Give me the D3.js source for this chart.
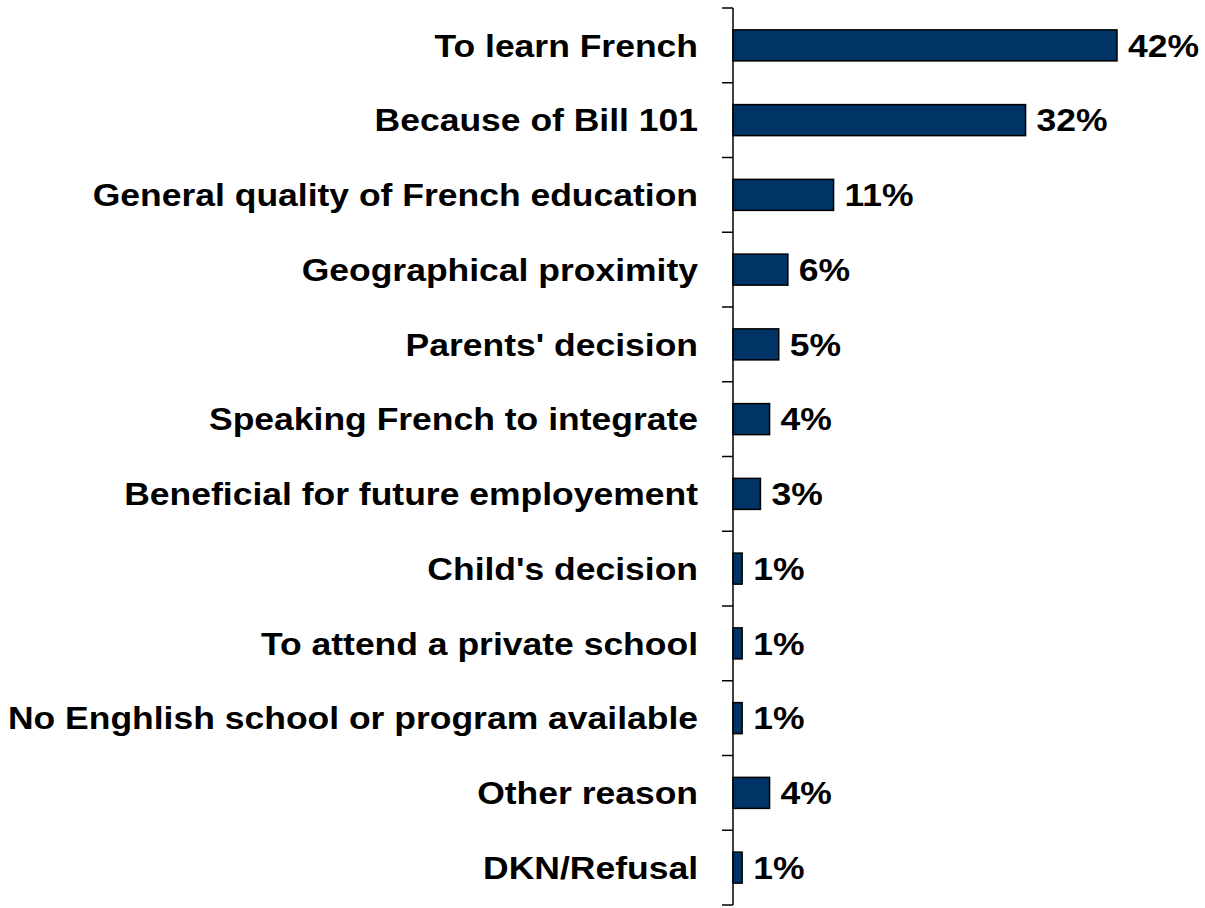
<!DOCTYPE html>
<html>
<head>
<meta charset="utf-8">
<script src="https://cdn.jsdelivr.net/npm/d3@7"></script>
<style>
  html, body { margin: 0; padding: 0; background: #fff; }
  svg { display: block; }
  text { font-family: "Liberation Sans", Arial, sans-serif; font-weight: bold; fill: #000; }
</style>
</head>
<body>
<svg id="chart" width="1205" height="908"></svg>
<script>
// Reasons for choosing French schooling (share of respondents)
const categories = [
  "To learn French",
  "Because of Bill 101",
  "General quality of French education",
  "Geographical proximity",
  "Parents' decision",
  "Speaking French to integrate",
  "Beneficial for future employement",
  "Child's decision",
  "To attend a private school",
  "No Enghlish school or program available",
  "Other reason",
  "DKN/Refusal"
];
const values = [42, 32, 11, 6, 5, 4, 3, 1, 1, 1, 4, 1];
const valueLabels = values.map(v => v + "%");

const svg = d3.select("#chart");

const axisX = 733;
const plotTop = 8, plotBottom = 905;
const fontSize = 31;
const stretch = 1.145; // labels are set slightly wide

const x = d3.scaleLinear().domain([0, 42]).range([axisX, 1117]);
const y = d3.scaleBand().domain(categories).range([plotTop, plotBottom]).paddingInner(0.585).paddingOuter(0.2925);

// Bars
svg.append("g").selectAll("rect")
  .data(values)
  .join("rect")
  .attr("x", x(0))
  .attr("y", (d, i) => y(categories[i]))
  .attr("width", d => x(d) - x(0))
  .attr("height", y.bandwidth())
  .attr("fill", "#003366")
  .attr("stroke", "#000")
  .attr("stroke-width", 1.5);

// Category axis: vertical line with tick marks between categories
const band = (plotBottom - plotTop) / categories.length;
const tickPos = d3.range(categories.length + 1).map(i => plotTop + i * band);
const axisG = svg.append("g").attr("stroke", "#000").attr("stroke-width", 1.5);
axisG.append("line").attr("x1", axisX).attr("x2", axisX).attr("y1", plotTop).attr("y2", plotBottom);
axisG.selectAll("line.tick").data(tickPos).join("line")
  .attr("class", "tick")
  .attr("x1", axisX - 11).attr("x2", axisX)
  .attr("y1", d => d).attr("y2", d => d);

// Category labels
svg.append("g").selectAll("text")
  .data(categories)
  .join("text")
  .attr("transform", d => `translate(698,${y(d) + y.bandwidth() / 2}) scale(${stretch},1)`)
  .attr("dy", "0.36em")
  .attr("text-anchor", "end")
  .attr("font-size", fontSize)
  .text(d => d);

// Value labels
svg.append("g").selectAll("text")
  .data(values)
  .join("text")
  .attr("transform", (d, i) => `translate(${x(d) + 11},${y(categories[i]) + y.bandwidth() / 2}) scale(${stretch},1)`)
  .attr("dy", "0.36em")
  .attr("font-size", fontSize)
  .text((d, i) => valueLabels[i]);
</script>
</body>
</html>
